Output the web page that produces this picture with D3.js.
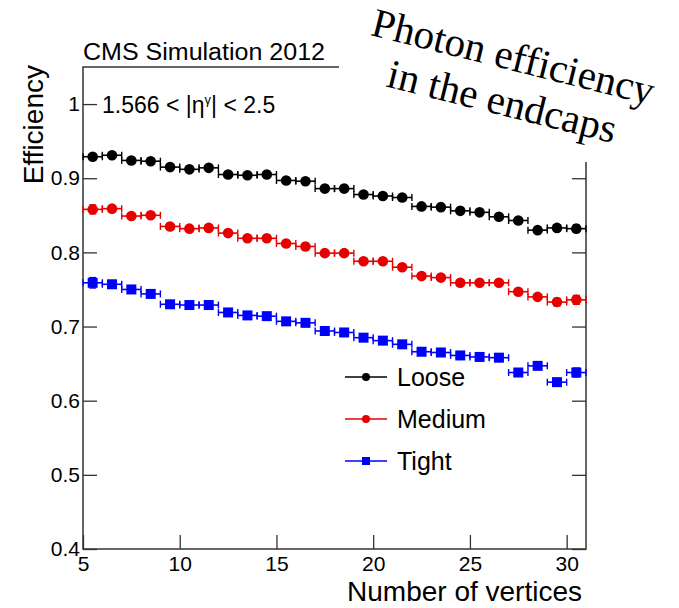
<!DOCTYPE html>
<html>
<head>
<meta charset="utf-8">
<script src="https://cdn.jsdelivr.net/npm/d3@7"></script>
<style>
  body { margin: 0; background: #fff; }
  text { font-family: "Liberation Sans", Arial, sans-serif; fill: #000; }
  .serif { font-family: "Liberation Serif", "Times New Roman", serif; }
</style>
</head>
<body>
<div id="chart"></div>
<script>
'use strict';

// bin centres (number of vertices)
var nvtx = [5.5, 6.5, 7.5, 8.5, 9.5, 10.5, 11.5, 12.5, 13.5, 14.5, 15.5, 16.5, 17.5,
            18.5, 19.5, 20.5, 21.5, 22.5, 23.5, 24.5, 25.5, 26.5, 27.5, 28.5, 29.5, 30.5];

var loose  = [0.929, 0.931, 0.924, 0.923, 0.915, 0.912, 0.914, 0.905, 0.904, 0.905, 0.897, 0.896, 0.886,
              0.886, 0.878, 0.876, 0.874, 0.862, 0.861, 0.856, 0.854, 0.848, 0.843, 0.830, 0.833, 0.832];
var medium = [0.858, 0.859, 0.849, 0.850, 0.835, 0.832, 0.833, 0.826, 0.819, 0.819, 0.812, 0.808, 0.799,
              0.799, 0.788, 0.788, 0.780, 0.768, 0.766, 0.759, 0.759, 0.759, 0.747, 0.740, 0.733, 0.736];
var tight  = [0.759, 0.757, 0.750, 0.744, 0.730, 0.729, 0.729, 0.719, 0.715, 0.714, 0.707, 0.705, 0.694,
              0.692, 0.685, 0.681, 0.676, 0.666, 0.665, 0.661, 0.659, 0.658, 0.638, 0.647, 0.625, 0.638];

// statistical errors (rough, larger at the tails)
var looseErr  = [0.004, 0.002, 0.002, 0.002, 0.002, 0.002, 0.002, 0.002, 0.002, 0.002, 0.002, 0.002, 0.002,
                 0.002, 0.002, 0.002, 0.002, 0.002, 0.002, 0.002, 0.002, 0.002, 0.003, 0.003, 0.004, 0.005];
var mediumErr = [0.006, 0.003, 0.002, 0.002, 0.002, 0.002, 0.002, 0.002, 0.002, 0.002, 0.002, 0.002, 0.002,
                 0.002, 0.002, 0.002, 0.002, 0.002, 0.002, 0.002, 0.002, 0.003, 0.003, 0.003, 0.005, 0.006];
var tightErr  = [0.007, 0.004, 0.003, 0.002, 0.002, 0.002, 0.002, 0.002, 0.002, 0.002, 0.002, 0.002, 0.002,
                 0.002, 0.002, 0.002, 0.002, 0.002, 0.002, 0.002, 0.002, 0.003, 0.003, 0.004, 0.005, 0.006];

var seriesNames = ['Loose', 'Medium', 'Tight'];

var xMajorTicks = [5, 10, 15, 20, 25, 30];
var yMajorTicks = [0.4, 0.5, 0.6, 0.7, 0.8, 0.9, 1.0];
var yTickLabels = ['0.4', '0.5', '0.6', '0.7', '0.8', '0.9', '1'];

var plot = {};
plot.w = 679;
plot.h = 608;
plot.left = 83;
plot.right = 586;
plot.top = 67;
plot.bottom = 549;

plot.xScale = d3.scaleLinear().domain([5, 31]).range([plot.left, plot.right]);
plot.yScale = d3.scaleLinear().domain([0.4, 1.05]).range([plot.bottom, plot.top]);

plot.styles = {
    'Loose':  {color: '#000000', shape: 'circle'},
    'Medium': {color: '#e60000', shape: 'circle'},
    'Tight':  {color: '#0000ff', shape: 'square'}
};

plot.appendSvg = function (div)
{
    return d3.select(div).append('svg')
        .attr('width', plot.w)
        .attr('height', plot.h);
}

plot.createAxes = function (svg)
{
    var x = plot.xScale, y = plot.yScale;
    var xMinor = d3.range(5, 32, 1);
    var yMinor = d3.range(0, 33).map(function (i) { return +(0.4 + i * 0.02).toFixed(2); });

    var bottom = svg.append('g').attr('transform', 'translate(0,' + plot.bottom + ')');
    bottom.call(d3.axisBottom(x).tickValues(xMinor).tickSize(-7).tickSizeOuter(0).tickFormat(''));
    bottom.call(d3.axisBottom(x).tickValues(xMajorTicks).tickSize(-14).tickSizeOuter(0)
        .tickPadding(6).tickFormat(d3.format('d')));

    var left = svg.append('g').attr('transform', 'translate(' + plot.left + ',0)');
    left.call(d3.axisLeft(y).tickValues(yMinor).tickSize(-8).tickSizeOuter(0).tickFormat(''));
    left.call(d3.axisLeft(y).tickValues(yMajorTicks).tickSize(-14).tickSizeOuter(0)
        .tickPadding(3).tickFormat(function (d, i) { return yTickLabels[i]; }));

    var right = svg.append('g').attr('transform', 'translate(' + plot.right + ',0)');
    right.call(d3.axisRight(y).tickValues(yMinor).tickSize(-8).tickSizeOuter(0).tickFormat(''));
    right.call(d3.axisRight(y).tickValues(yMajorTicks).tickSize(-14).tickSizeOuter(0).tickFormat(''));

    svg.selectAll('.domain').remove();
    svg.selectAll('.tick line').attr('stroke', '#333').attr('stroke-width', 1.3);
    svg.selectAll('.tick text').style('font-size', '21px').attr('fill', '#000');
    bottom.selectAll('.tick text').attr('dy', '0.75em');

    // frame
    svg.append('rect')
        .attr('x', plot.left).attr('y', plot.top)
        .attr('width', plot.right - plot.left).attr('height', plot.bottom - plot.top)
        .attr('fill', 'none').attr('stroke', '#333').attr('stroke-width', 1.5);
}

plot.appendSeries = function (g, name, vals, errs)
{
    var st = plot.styles[name];
    var x = plot.xScale, y = plot.yScale;
    var data = vals.map(function (v, i) { return {x: nvtx[i], y: v, e: errs[i]}; });
    var grp = g.append('g').attr('stroke', st.color).attr('fill', st.color);

    var pts = grp.selectAll('g.pt').data(data).enter().append('g').attr('class', 'pt');
    // horizontal bar (bin width) with end caps
    pts.append('line')
        .attr('x1', function (d) { return x(d.x - 0.5); })
        .attr('x2', function (d) { return x(d.x + 0.5); })
        .attr('y1', function (d) { return y(d.y); })
        .attr('y2', function (d) { return y(d.y); })
        .attr('stroke-width', 1.6);
    [-0.5, 0.5].forEach(function (o) {
        pts.append('line')
            .attr('x1', function (d) { return x(d.x + o); })
            .attr('x2', function (d) { return x(d.x + o); })
            .attr('y1', function (d) { return y(d.y) - 3.5; })
            .attr('y2', function (d) { return y(d.y) + 3.5; })
            .attr('stroke-width', 1.4);
    });
    // vertical error
    pts.append('line')
        .attr('x1', function (d) { return x(d.x); })
        .attr('x2', function (d) { return x(d.x); })
        .attr('y1', function (d) { return y(d.y + d.e); })
        .attr('y2', function (d) { return y(d.y - d.e); })
        .attr('stroke-width', 1.6);
    [1, -1].forEach(function (s) {
        pts.append('line')
            .attr('x1', function (d) { return x(d.x) - 3.5; })
            .attr('x2', function (d) { return x(d.x) + 3.5; })
            .attr('y1', function (d) { return y(d.y + s * d.e); })
            .attr('y2', function (d) { return y(d.y + s * d.e); })
            .attr('stroke-width', 1.4);
    });
    if (st.shape == 'circle') {
        pts.append('circle')
            .attr('cx', function (d) { return x(d.x); })
            .attr('cy', function (d) { return y(d.y); })
            .attr('r', 5.3).attr('stroke', 'none');
    } else {
        pts.append('rect')
            .attr('x', function (d) { return x(d.x) - 5; })
            .attr('y', function (d) { return y(d.y) - 5; })
            .attr('width', 10).attr('height', 10).attr('stroke', 'none');
    }
}

plot.appendLegend = function (svg)
{
    var rows = seriesNames.map(function (n, i) { return {name: n, y: 377 + i * 42}; });
    var lg = svg.append('g').attr('class', 'legend');
    rows.forEach(function (r) {
        var st = plot.styles[r.name];
        lg.append('line').attr('x1', 345).attr('x2', 387).attr('y1', r.y).attr('y2', r.y)
            .attr('stroke', st.color).attr('stroke-width', 1.6);
        if (st.shape == 'circle') {
            lg.append('circle').attr('cx', 366).attr('cy', r.y).attr('r', 4).attr('fill', st.color);
        } else {
            lg.append('rect').attr('x', 362).attr('y', r.y - 4).attr('width', 8).attr('height', 8)
                .attr('fill', st.color);
        }
        lg.append('text').attr('x', 397).attr('y', r.y + 9).style('font-size', '25px').text(r.name);
    });
}

plot.appendLabels = function (svg)
{
    svg.append('text').attr('x', 83).attr('y', 60)
        .attr('textLength', 242).attr('lengthAdjust', 'spacingAndGlyphs')
        .style('font-size', '23px').text('CMS Simulation 2012');

    var t = svg.append('text').attr('x', 102).attr('y', 113).style('font-size', '23px');
    t.append('tspan').text('1.566 < |\u03b7');
    t.append('tspan').attr('dy', -9).style('font-size', '13px').text('\u03b3');
    t.append('tspan').attr('dy', 9).text('| < 2.5');

    svg.append('text')
        .attr('transform', 'translate(43,65) rotate(-90)')
        .attr('text-anchor', 'end')
        .style('font-size', '28px').text('Efficiency');

    svg.append('text').attr('x', 582).attr('y', 601)
        .attr('text-anchor', 'end')
        .style('font-size', '28px').text('Number of vertices');

    // pasted-on caption covering the upper right corner
    svg.append('rect').attr('x', 339).attr('y', 0).attr('width', 340).attr('height', 162).attr('fill', '#fff');
    var cap = svg.append('g').attr('transform', 'translate(510,70) rotate(14)');
    cap.append('text').attr('class', 'serif').attr('text-anchor', 'middle')
        .style('font-size', '41px').text('Photon efficiency');
    cap.append('text').attr('class', 'serif').attr('text-anchor', 'middle').attr('y', 46)
        .style('font-size', '41px').text('in the endcaps');
}

function drawChart(div)
{
    var svg = plot.appendSvg(div);
    plot.createAxes(svg);
    var g = svg.append('g').attr('class', 'data');
    plot.appendSeries(g, 'Loose', loose, looseErr);
    plot.appendSeries(g, 'Medium', medium, mediumErr);
    plot.appendSeries(g, 'Tight', tight, tightErr);
    plot.appendLegend(svg);
    plot.appendLabels(svg);
}

drawChart('#chart');
</script>
</body>
</html>
